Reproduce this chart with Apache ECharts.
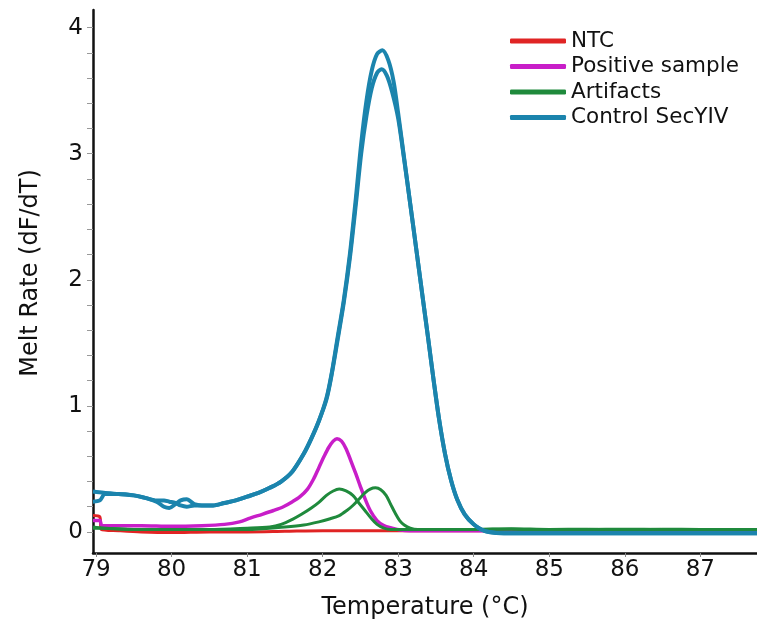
<!DOCTYPE html>
<html>
<head>
<meta charset="utf-8">
<script src="https://cdn.jsdelivr.net/npm/echarts@6/dist/echarts.min.js"></script>
<style>
html,body{margin:0;padding:0;background:#fff;}
#chart{width:757px;height:631px;}
</style>
</head>
<body>
<div id="chart"></div>
<script>
// ---- data ----
const legendNames = ['NTC', 'Positive sample', 'Artifacts', 'Control SecYIV'];
const xTickValues = [79, 80, 81, 82, 83, 84, 85, 86, 87];
const yTickValues = [0, 1, 2, 3, 4];

const ntcT = [78.96, 79.05, 79.07, 79.3, 79.6, 80.0, 80.5, 81.0, 81.5, 82.0, 82.5, 83.0, 83.5, 84.0, 85.0, 86.0, 87.0, 87.75];
const ntcV = [0.13, 0.12, 0.02, 0.01, 0.0, -0.005, 0.0, 0.0, 0.005, 0.01, 0.01, 0.01, 0.01, 0.01, 0.01, 0.01, 0.01, 0.01];

const posT = [78.96, 79.05, 79.08, 79.3, 79.6, 80.0, 80.4, 80.7, 80.9, 81.04, 81.2, 81.35, 81.48, 81.6, 81.7, 81.8, 81.88, 81.95, 82.02, 82.08, 82.14, 82.19, 82.25, 82.31, 82.37, 82.44, 82.5, 82.57, 82.63, 82.72, 82.81, 82.92, 83.03, 83.15, 83.3, 84.0, 85.0, 86.0, 87.0, 87.75];
const posV = [0.09, 0.09, 0.05, 0.05, 0.05, 0.045, 0.05, 0.06, 0.08, 0.11, 0.14, 0.17, 0.20, 0.24, 0.28, 0.34, 0.42, 0.51, 0.60, 0.67, 0.72, 0.74, 0.72, 0.66, 0.57, 0.46, 0.36, 0.25, 0.17, 0.09, 0.05, 0.03, 0.015, 0.01, 0.01, 0.01, 0.01, 0.01, 0.01, 0.01];

const art1T = [78.96, 79.1, 79.5, 80.0, 80.5, 81.0, 81.3, 81.45, 81.6, 81.72, 81.85, 81.95, 82.05, 82.14, 82.22, 82.31, 82.4, 82.48, 82.56, 82.64, 82.72, 82.81, 82.9, 83.0, 83.5, 84.0, 84.5, 85.0, 85.5, 86.0, 86.5, 87.0, 87.75];
const art1V = [0.04, 0.03, 0.02, 0.02, 0.02, 0.03, 0.04, 0.06, 0.10, 0.14, 0.19, 0.235, 0.29, 0.325, 0.34, 0.325, 0.29, 0.23, 0.17, 0.11, 0.06, 0.03, 0.02, 0.02, 0.02, 0.02, 0.025, 0.02, 0.022, 0.018, 0.022, 0.02, 0.02];

const art2T = [78.96, 79.1, 79.5, 80.0, 80.5, 81.0, 81.5, 81.75, 81.95, 82.1, 82.22, 82.32, 82.4, 82.48, 82.56, 82.63, 82.7, 82.77, 82.84, 82.9, 82.96, 83.02, 83.08, 83.16, 83.26, 83.6, 84.0, 84.5, 85.0, 85.5, 86.0, 86.5, 87.0, 87.75];
const art2V = [0.03, 0.03, 0.02, 0.02, 0.02, 0.02, 0.04, 0.055, 0.08, 0.105, 0.13, 0.17, 0.21, 0.26, 0.31, 0.34, 0.35, 0.335, 0.29, 0.22, 0.15, 0.09, 0.055, 0.03, 0.02, 0.02, 0.02, 0.022, 0.018, 0.02, 0.022, 0.02, 0.02, 0.02];

const ctlAT = [78.96, 79.1, 79.3, 79.5, 79.65, 79.8, 79.9, 79.97, 80.05, 80.12, 80.2, 80.3, 80.4, 80.55, 80.7, 80.85, 81.0, 81.15, 81.3, 81.45, 81.6, 81.75, 81.85, 81.95, 82.05, 82.12, 82.2, 82.28, 82.36, 82.44, 82.51, 82.58, 82.65, 82.72, 82.79, 82.87, 82.94, 83.0, 83.08, 83.16, 83.24, 83.32, 83.4, 83.47, 83.54, 83.62, 83.7, 83.78, 83.88, 84.0, 84.1, 84.2, 84.4, 85.0, 86.0, 87.0, 87.75];
const ctlAV = [0.32, 0.31, 0.30, 0.29, 0.27, 0.24, 0.20, 0.19, 0.22, 0.25, 0.26, 0.22, 0.21, 0.21, 0.23, 0.25, 0.28, 0.31, 0.35, 0.40, 0.48, 0.62, 0.74, 0.88, 1.06, 1.26, 1.55, 1.84, 2.2, 2.65, 3.08, 3.42, 3.66, 3.79, 3.82, 3.74, 3.57, 3.32, 2.96, 2.6, 2.24, 1.88, 1.52, 1.2, 0.9, 0.62, 0.41, 0.26, 0.14, 0.06, 0.02, 0.0, -0.01, -0.01, -0.01, -0.01, -0.01];

const ctlBT = [78.96, 79.05, 79.12, 79.3, 79.5, 79.65, 79.8, 79.9, 79.97, 80.05, 80.12, 80.2, 80.3, 80.4, 80.55, 80.7, 80.85, 81.0, 81.15, 81.3, 81.45, 81.6, 81.75, 81.85, 81.95, 82.05, 82.12, 82.2, 82.28, 82.36, 82.44, 82.51, 82.58, 82.65, 82.72, 82.78, 82.85, 82.92, 83.0, 83.08, 83.16, 83.24, 83.32, 83.4, 83.47, 83.54, 83.62, 83.7, 83.78, 83.88, 84.0, 84.1, 84.2, 84.4, 85.0, 86.0, 87.0, 87.75];
const ctlBV = [0.24, 0.25, 0.30, 0.30, 0.29, 0.27, 0.25, 0.25, 0.24, 0.23, 0.21, 0.20, 0.21, 0.21, 0.21, 0.23, 0.25, 0.28, 0.31, 0.35, 0.40, 0.48, 0.62, 0.74, 0.88, 1.05, 1.25, 1.53, 1.82, 2.17, 2.6, 3.0, 3.3, 3.52, 3.64, 3.67, 3.62, 3.49, 3.28, 2.95, 2.6, 2.24, 1.88, 1.52, 1.2, 0.9, 0.62, 0.41, 0.26, 0.14, 0.06, 0.02, 0.0, -0.01, -0.01, -0.01, -0.01, -0.01];

const colors = { ntc: '#e02424', pos: '#c81ec8', art: '#1f8a3c', ctl: '#1b84ad' };

function pairs(t, v) { return t.map((x, i) => [x, v[i]]); }

const FONT = 'DejaVu Sans';
const chart = echarts.init(document.getElementById('chart'), null, { renderer: 'canvas' });

function lineSeries(name, t, v, color, width) {
  return {
    name: name, type: 'line', data: pairs(t, v), showSymbol: false, smooth: 0.3,
    lineStyle: { color: color, width: width }, itemStyle: { color: color },
    emphasis: { disabled: true }, animation: false
  };
}

const option = {
  animation: false,
  backgroundColor: '#ffffff',
  grid: { left: 93, right: 0, top: 10, bottom: 78, containLabel: false },
  legend: {
    data: legendNames.map(n => ({ name: n, icon: 'roundRect' })),
    orient: 'vertical', left: 505, top: 25,
    itemWidth: 56, itemHeight: 5, itemGap: 3.5,
    textStyle: { fontFamily: FONT, fontSize: 21.5, color: '#111', lineHeight: 22 },
    selectedMode: false
  },
  xAxis: {
    type: 'value', min: 78.96, max: 87.75, splitNumber: 9,
    name: 'Temperature (°C)', nameLocation: 'middle', nameGap: 43,
    nameTextStyle: { fontFamily: FONT, fontSize: 24, color: '#111' },
    axisLine: { show: true, onZero: false, lineStyle: { color: '#111', width: 2.5 } },
    axisTick: { show: true, length: 4, lineStyle: { color: '#888', width: 1 } },
    axisLabel: {
      margin: 6, fontFamily: FONT, fontSize: 23, color: '#111',
      showMinLabel: false, showMaxLabel: false,
      formatter: v => (xTickValues.indexOf(Math.round(v * 1000) / 1000) >= 0 ? String(Math.round(v)) : '')
    },
    splitLine: { show: false }
  },
  yAxis: {
    type: 'value', min: -0.167, max: 4.14, splitNumber: 22,
    name: 'Melt Rate (dF/dT)', nameLocation: 'middle', nameGap: 50,
    nameTextStyle: { fontFamily: FONT, fontSize: 24, color: '#111', padding: [0, 0, 0, 17] },
    axisLine: { show: true, lineStyle: { color: '#111', width: 2.5 } },
    axisTick: { show: true, length: 6, lineStyle: { color: '#999', width: 1 } },
    axisLabel: {
      margin: 10, fontFamily: FONT, fontSize: 23, color: '#111',
      showMinLabel: false, showMaxLabel: false,
      formatter: v => (yTickValues.indexOf(Math.round(v * 1000) / 1000) >= 0 ? String(Math.round(v)) : '')
    },
    splitLine: { show: false }
  },
  series: [
    lineSeries('NTC', ntcT, ntcV, colors.ntc, 3),
    lineSeries('Positive sample', posT, posV, colors.pos, 3.5),
    lineSeries('Artifacts', art1T, art1V, colors.art, 3),
    lineSeries('Artifacts', art2T, art2V, colors.art, 3),
    lineSeries('Control SecYIV', ctlBT, ctlBV, colors.ctl, 4),
    lineSeries('Control SecYIV', ctlAT, ctlAV, colors.ctl, 4)
  ]
};
chart.setOption(option);
</script>
</body>
</html>
